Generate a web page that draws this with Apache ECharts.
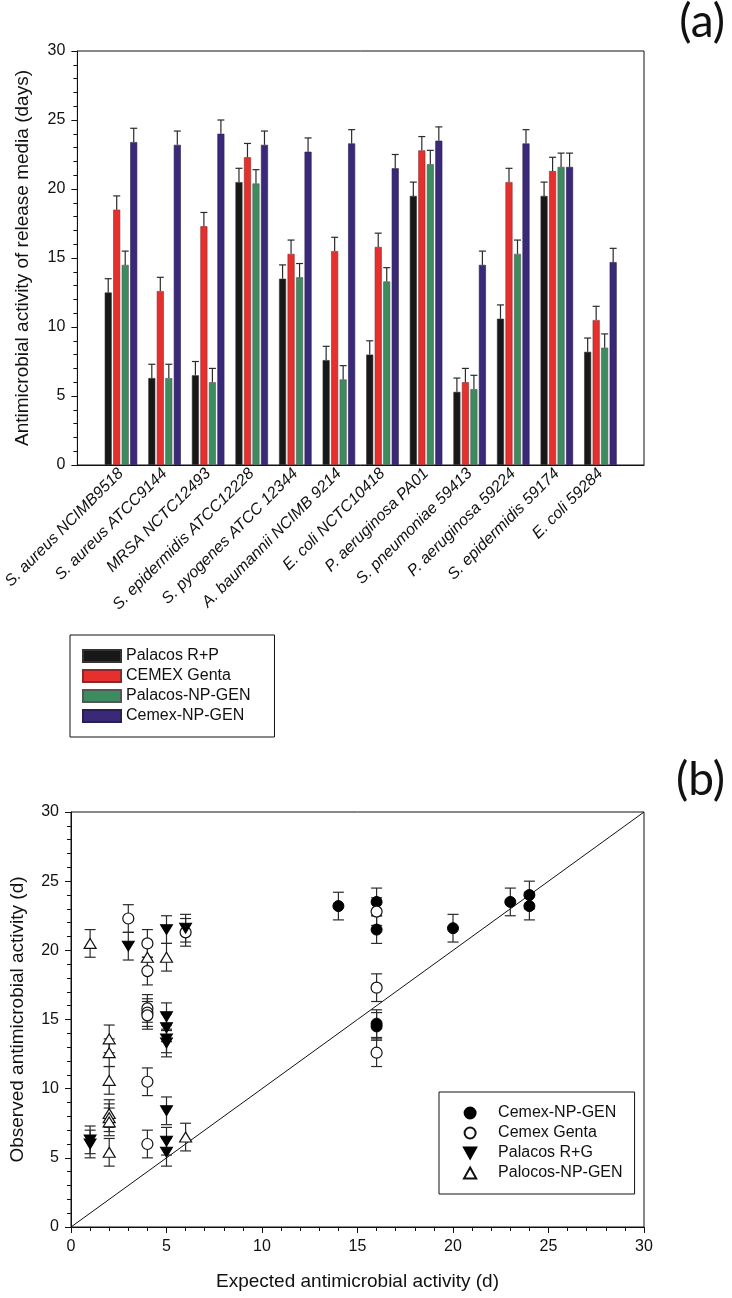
<!DOCTYPE html>
<html>
<head>
<meta charset="utf-8">
<script src="https://cdn.jsdelivr.net/npm/echarts@6/dist/echarts.min.js"></script>
<style>
html,body{margin:0;padding:0;background:#fff;}
#c{width:732px;height:1298px;}
</style>
</head>
<body>
<div id="c"></div>
<script>
// ---------- Panel (a) data ----------
const categories = ['S. aureus NCIMB9518', 'S. aureus ATCC9144', 'MRSA NCTC12493', 'S. epidermidis ATCC12228',
  'S. pyogenes ATCC 12344', 'A. baumannii NCIMB 9214', 'E. coli NCTC10418', 'P. aeruginosa PA01',
  'S. pneumoniae 59413', 'P. aeruginosa 59224', 'S. epidermidis 59174', 'E. coli 59284'];
const barNames = ['Palacos R+P', 'CEMEX Genta', 'Palacos-NP-GEN', 'Cemex-NP-GEN'];
const palacosRP    = [12.5, 6.3, 6.5, 20.5, 13.5, 7.6, 8.0, 19.5, 5.3, 10.6, 19.5, 8.2];
const cemexGenta   = [18.5, 12.6, 17.3, 22.3, 15.3, 15.5, 15.8, 22.8, 6.0, 20.5, 21.3, 10.5];
const palacosNPGEN = [14.5, 6.3, 6.0, 20.4, 13.6, 6.2, 13.3, 21.8, 5.5, 15.3, 21.6, 8.5];
const cemexNPGEN   = [23.4, 23.2, 24.0, 23.2, 22.7, 23.3, 21.5, 23.5, 14.5, 23.3, 21.6, 14.7];
const errPalacosRP    = [1.0, 1.0, 1.0, 1.0, 1.0, 1.0, 1.0, 1.0, 1.0, 1.0, 1.0, 1.0];
const errCemexGenta   = [1.0, 1.0, 1.0, 1.0, 1.0, 1.0, 1.0, 1.0, 1.0, 1.0, 1.0, 1.0];
const errPalacosNPGEN = [1.0, 1.0, 1.0, 1.0, 1.0, 1.0, 1.0, 1.0, 1.0, 1.0, 1.0, 1.0];
const errCemexNPGEN   = [1.0, 1.0, 1.0, 1.0, 1.0, 1.0, 1.0, 1.0, 1.0, 1.0, 1.0, 1.0];
const yTicksA = [0, 5, 10, 15, 20, 25, 30];

// ---------- Panel (b) data ----------
const scatterNames = ['Cemex-NP-GEN', 'Cemex Genta', 'Palacos R+G', 'Palocos-NP-GEN'];
const bCemexNPGEN_x = [14, 16, 16, 16, 16, 20, 23, 24, 24];
const bCemexNPGEN_y = [23.2, 23.5, 21.5, 14.7, 14.5, 21.6, 23.5, 24.0, 23.2];
const bCemexNPGEN_e = [1.0, 1.0, 1.0, 1.0, 1.0, 1.0, 1.0, 1.0, 1.0];
const bCemexGenta_x = [3, 4, 4, 4, 4, 4, 4, 4, 6, 16, 16, 16];
const bCemexGenta_y = [22.3, 20.5, 18.5, 15.8, 15.5, 15.3, 10.5, 6.0, 21.3, 22.8, 17.3, 12.6];
const bCemexGenta_e = [1.0, 1.0, 1.0, 1.0, 1.0, 1.0, 1.0, 1.0, 1.0, 1.0, 1.0, 1.0];
const bPalacosRG_x = [1, 1, 3, 5, 5, 5, 5, 5, 5, 5, 5, 6];
const bPalacosRG_y = [6.3, 6.0, 20.3, 21.5, 15.2, 14.4, 13.6, 13.3, 8.4, 6.2, 5.4, 21.6];
const bPalacosRG_e = [1.0, 1.0, 1.0, 1.0, 1.0, 1.0, 1.0, 1.0, 1.0, 1.0, 1.0, 1.0];
const bPalocosNPGEN_x = [1, 2, 2, 2, 2, 2, 2, 2, 4, 5, 6];
const bPalocosNPGEN_y = [20.5, 13.6, 12.6, 10.6, 8.2, 7.9, 7.6, 5.4, 19.5, 19.5, 6.5];
const bPalocosNPGEN_e = [1.0, 1.0, 1.0, 1.0, 1.0, 1.0, 1.0, 1.0, 1.0, 1.0, 1.0];
const identityLine = [[0, 0], [30, 30]];
const xTicksB = [0, 5, 10, 15, 20, 25, 30];

// ---------- styles ----------
const FONT = '"Liberation Sans", Arial, sans-serif';
const barColors = ['#181818', '#e5302e', '#3d8c5f', '#3a2878'];
const barBorders = ['#333333', '#8a2a28', '#555555', '#2a2050'];
const BAR_W = 7, BAR_GAP = 1.5;
const CAP_A = 7, CAP_B = 11;

const catData = [''].concat(categories, ['']);
const barValues = [palacosRP, cemexGenta, palacosNPGEN, cemexNPGEN];
const barErrs = [errPalacosRP, errCemexGenta, errPalacosNPGEN, errCemexNPGEN];

function pad(arr) { return ['-'].concat(arr, ['-']); }

function errRendererA(k) {
  return function (params, api) {
    const xi = api.value(0), y = api.value(1), e = api.value(2);
    const base = api.coord([xi, y]);
    const top = api.coord([xi, y + e]);
    const cx = base[0] + (k - 1.5) * (BAR_W + BAR_GAP);
    const st = { stroke: '#2a2a2a', lineWidth: 1.2 };
    return { type: 'group', children: [
      { type: 'line', shape: { x1: cx, y1: base[1], x2: cx, y2: top[1] }, style: st },
      { type: 'line', shape: { x1: cx - CAP_A / 2, y1: top[1], x2: cx + CAP_A / 2, y2: top[1] }, style: st }
    ]};
  };
}

function errRendererB(params, api) {
  const x = api.value(0), y = api.value(1), e = api.value(2);
  const lo = api.coord([x, y - e]);
  const hi = api.coord([x, y + e]);
  const st = { stroke: '#2a2a2a', lineWidth: 1.2 };
  return { type: 'group', children: [
    { type: 'line', shape: { x1: lo[0], y1: lo[1], x2: hi[0], y2: hi[1] }, style: st },
    { type: 'line', shape: { x1: hi[0] - CAP_B / 2, y1: hi[1], x2: hi[0] + CAP_B / 2, y2: hi[1] }, style: st },
    { type: 'line', shape: { x1: lo[0] - CAP_B / 2, y1: lo[1], x2: lo[0] + CAP_B / 2, y2: lo[1] }, style: st }
  ]};
}

function zip3(xs, ys, es) { return xs.map((x, i) => [x, ys[i], es[i]]); }

const series = [];
barNames.forEach((n, k) => {
  series.push({
    name: n, type: 'bar', xAxisIndex: 0, yAxisIndex: 0,
    data: pad(barValues[k]), barWidth: BAR_W, barGap: (BAR_GAP / BAR_W * 100) + '%',
    itemStyle: { color: barColors[k], borderColor: barBorders[k], borderWidth: 0.6 },
    silent: true, z: 2
  });
});
barNames.forEach((n, k) => {
  series.push({
    type: 'custom', xAxisIndex: 0, yAxisIndex: 0, z: 3, silent: true,
    renderItem: errRendererA(k), encode: { x: 0, y: 1 },
    data: barValues[k].map((v, i) => [i + 1, v, barErrs[k][i]])
  });
});

// panel (b)
const sx = [bCemexNPGEN_x, bCemexGenta_x, bPalacosRG_x, bPalocosNPGEN_x];
const sy = [bCemexNPGEN_y, bCemexGenta_y, bPalacosRG_y, bPalocosNPGEN_y];
const se = [bCemexNPGEN_e, bCemexGenta_e, bPalacosRG_e, bPalocosNPGEN_e];
series.push({
  type: 'line', xAxisIndex: 1, yAxisIndex: 1, data: identityLine, showSymbol: false, symbol: 'none',
  lineStyle: { color: '#111', width: 1 }, silent: true, z: 1
});
series.push({
  type: 'custom', xAxisIndex: 1, yAxisIndex: 1, z: 2, silent: true, renderItem: errRendererB,
  encode: { x: 0, y: 1 },
  data: [].concat(zip3(sx[0], sy[0], se[0]), zip3(sx[1], sy[1], se[1]), zip3(sx[2], sy[2], se[2]), zip3(sx[3], sy[3], se[3]))
});
const downTri = 'path://M0,0 L10,0 L5,9 Z';
const upTri = 'path://M5,0 L10,9 L0,9 Z';
const symStyles = [
  { symbol: 'circle', symbolSize: 11, itemStyle: { color: '#000', borderColor: '#000', borderWidth: 1, opacity: 1 } },
  { symbol: 'circle', symbolSize: 11, itemStyle: { color: '#fff', borderColor: '#111', borderWidth: 1.2, opacity: 1 } },
  { symbol: downTri, symbolSize: [12, 11], itemStyle: { color: '#000', borderColor: '#000', borderWidth: 1, opacity: 1 } },
  { symbol: upTri, symbolSize: [12, 11], itemStyle: { color: '#fff', borderColor: '#111', borderWidth: 1.2, opacity: 1 } }
];
scatterNames.forEach((n, k) => {
  series.push(Object.assign({
    name: n + ' (b)', type: 'scatter', xAxisIndex: 1, yAxisIndex: 1, z: 4, silent: true,
    symbolKeepAspect: true,
    data: sx[k].map((x, i) => [x, sy[k][i]])
  }, symStyles[k]));
});

const axisLabelStyle = { fontFamily: FONT, fontSize: 16, color: '#111' };
const nameStyle = { fontFamily: FONT, fontSize: 19, color: '#111' };
const panelLabelStyle = { fontFamily: 'Lato, "Open Sans", sans-serif', fontSize: 46, fontWeight: 'normal', color: '#111' };

const option = {
  animation: false,
  backgroundColor: '#fff',
  textStyle: { fontFamily: FONT },
  title: [
    { text: '(a)', right: 2, top: -6, textStyle: panelLabelStyle },
    { text: '(b)', right: 2, top: 752, textStyle: panelLabelStyle }
  ],
  grid: [
    { left: 69, top: 51, width: 575, height: 414, show: true, borderColor: '#111', borderWidth: 1, backgroundColor: 'transparent' },
    { left: 69, top: 812, width: 575, height: 415, show: true, borderColor: '#111', borderWidth: 1, backgroundColor: 'transparent' }
  ],
  legend: [
    {
      data: barNames, orient: 'vertical', left: 70, top: 635,
      itemWidth: 38, itemHeight: 12, itemGap: 2,
      padding: [12, 24, 12, 12], borderColor: '#111', borderWidth: 1,
      textStyle: { fontFamily: FONT, fontSize: 16, color: '#111', lineHeight: 18 },
      selectedMode: false, icon: 'rect'
    },
    {
      data: scatterNames.map(n => n + ' (b)'), orient: 'vertical', left: 439, top: 1092,
      itemWidth: 46, itemHeight: 11, itemGap: 2, symbolKeepAspect: true,
      padding: [12, 12, 12, 24], borderColor: '#111', borderWidth: 1,
      formatter: name => name.replace(' (b)', ''),
      textStyle: { fontFamily: FONT, fontSize: 16, color: '#111', lineHeight: 18 },
      selectedMode: false
    }
  ],
  xAxis: [
    {
      type: 'category', gridIndex: 0, data: catData, boundaryGap: false,
      axisLine: { lineStyle: { color: '#111', width: 1 } },
      axisTick: { show: false },
      axisLabel: Object.assign({}, axisLabelStyle, { rotate: 45, interval: 0, fontStyle: 'italic', margin: 6 }),
      splitLine: { show: false }
    },
    {
      type: 'value', gridIndex: 1, min: 0, max: 30, interval: 5,
      name: 'Expected antimicrobial activity (d)', nameLocation: 'middle', nameGap: 45, nameTextStyle: nameStyle,
      axisLine: { lineStyle: { color: '#111', width: 1 } },
      axisTick: { show: true, inside: false, length: 6, lineStyle: { color: '#111' } },
      minorTick: { show: true, splitNumber: 5, length: 4, lineStyle: { color: '#111' } },
      axisLabel: Object.assign({}, axisLabelStyle, { margin: 12,
        formatter: v => (xTicksB.indexOf(v) >= 0 ? String(v) : '') }),
      splitLine: { show: false }
    }
  ],
  yAxis: [
    {
      type: 'value', gridIndex: 0, min: 0, max: 30, interval: 5,
      name: 'Antimicrobial activity of release media (days)', nameLocation: 'middle', nameGap: 45, nameTextStyle: nameStyle,
      axisLine: { show: true, lineStyle: { color: '#111', width: 1 } },
      axisTick: { show: true, inside: false, length: 6, lineStyle: { color: '#111' } },
      minorTick: { show: true, splitNumber: 5, length: 4, lineStyle: { color: '#111' } },
      axisLabel: Object.assign({}, axisLabelStyle, { margin: 12,
        formatter: v => (yTicksA.indexOf(v) >= 0 ? String(v) : '') }),
      splitLine: { show: false }
    },
    {
      type: 'value', gridIndex: 1, min: 0, max: 30, interval: 5,
      name: 'Observed antimicrobial activity (d)', nameLocation: 'middle', nameGap: 44, nameTextStyle: nameStyle,
      axisLine: { show: true, lineStyle: { color: '#111', width: 1 } },
      axisTick: { show: true, inside: false, length: 6, lineStyle: { color: '#111' } },
      minorTick: { show: true, splitNumber: 5, length: 4, lineStyle: { color: '#111' } },
      axisLabel: Object.assign({}, axisLabelStyle, { margin: 12 }),
      splitLine: { show: false }
    }
  ],
  series: series
};

const chart = echarts.init(document.getElementById('c'), null, { renderer: 'canvas', width: 732, height: 1298 });
chart.setOption(option);
</script>
</body>
</html>
